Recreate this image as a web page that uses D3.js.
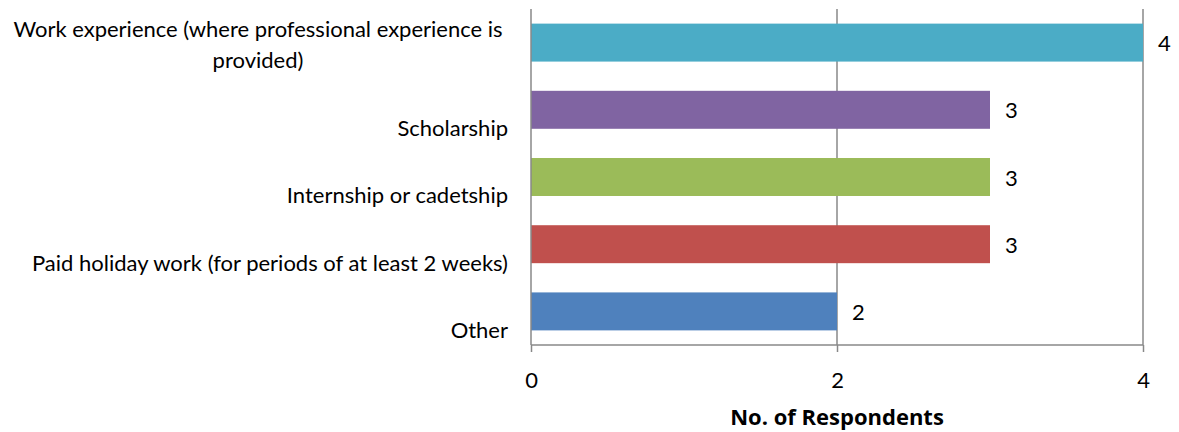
<!DOCTYPE html>
<html>
<head>
<meta charset="utf-8">
<script src="https://cdn.jsdelivr.net/npm/d3@7"></script>
<style>
  html, body { margin: 0; padding: 0; background: #fff; }
  svg text { font-family: Lato, "Open Sans", sans-serif; fill: #000; }
</style>
</head>
<body>
<svg id="chart" width="1179" height="432"></svg>
<script>
// Categories from top to bottom, each split into display lines
const categories = [
  "Work experience (where professional experience is provided)",
  "Scholarship",
  "Internship or cadetship",
  "Paid holiday work (for periods of at least 2 weeks)",
  "Other"
];
const categoryLines = [
  ["Work experience (where professional experience is", "provided)"],
  ["Scholarship"],
  ["Internship or cadetship"],
  ["Paid holiday work (for periods of at least 2 weeks)"],
  ["Other"]
];
const respondents = [4, 3, 3, 3, 2];
const barColors = ["#4BACC6", "#8064A2", "#9BBB59", "#C0504D", "#4F81BD"];
const xTicks = [0, 2, 4];
const xTitle = "No. of Respondents";

const svg = d3.select("#chart");
const plot = { left: 531, right: 1143, top: 9, bottom: 345 };
const axisColor = "#888888";
const fontSize = 22;

const x = d3.scaleLinear().domain([0, 4]).range([plot.left, plot.right]);
const y = d3.scaleBand().domain(categories).range([plot.top, plot.bottom])
  .paddingInner(0.435).paddingOuter(0.2175);

// Vertical gridlines
svg.append("g").selectAll("line").data(xTicks.filter(t => t > 0)).join("line")
  .attr("x1", d => x(d)).attr("x2", d => x(d))
  .attr("y1", plot.top).attr("y2", plot.bottom)
  .attr("stroke", axisColor).attr("stroke-width", 1.5);

// Bars
svg.append("g").selectAll("rect").data(categories).join("rect")
  .attr("x", x(0))
  .attr("y", d => y(d))
  .attr("width", (d, i) => x(respondents[i]) - x(0))
  .attr("height", y.bandwidth())
  .attr("fill", (d, i) => barColors[i]);

// Bottom axis
const xAxis = d3.axisBottom(x).tickValues(xTicks).tickSize(7).tickPadding(20)
  .tickFormat(d3.format("d"));
const gx = svg.append("g").attr("transform", `translate(0,${plot.bottom})`).call(xAxis);
gx.select(".domain").attr("stroke", axisColor).attr("stroke-width", 1.5)
  .attr("d", `M${plot.left},0H${plot.right}`);
gx.selectAll(".tick line").attr("stroke", axisColor).attr("stroke-width", 1.5);
gx.selectAll(".tick text").attr("font-size", fontSize).attr("fill", "#000")
  .style("font-family", "Lato, 'Open Sans', sans-serif");

// Left axis line
svg.append("line")
  .attr("x1", plot.left).attr("x2", plot.left)
  .attr("y1", plot.top).attr("y2", plot.bottom)
  .attr("stroke", axisColor).attr("stroke-width", 1.5);

// Category labels
const step = y.step();
const labelG = svg.append("g");
categories.forEach((c, i) => {
  const lines = categoryLines[i];
  const cy = y(c) + y.bandwidth() / 2;
  if (lines.length === 1) {
    labelG.append("text")
      .attr("x", 508).attr("y", cy + step * 0.25 + 4)
      .attr("text-anchor", "end").attr("dominant-baseline", "middle")
      .attr("font-size", fontSize).text(lines[0]);
  } else {
    const t = labelG.append("text")
      .attr("font-size", fontSize).attr("text-anchor", "middle")
      .attr("dominant-baseline", "middle");
    lines.forEach((ln, j) => {
      t.append("tspan").attr("x", 258).attr("y", cy - 12 + j * 31).text(ln);
    });
  }
});

// Value labels
svg.append("g").selectAll("text").data(categories).join("text")
  .attr("x", (d, i) => x(respondents[i]) + 15)
  .attr("y", d => y(d) + y.bandwidth() / 2 + 3)
  .attr("dominant-baseline", "middle")
  .attr("font-size", fontSize)
  .text((d, i) => respondents[i]);

// Axis title
svg.append("text")
  .attr("x", x(2)).attr("y", 419)
  .attr("text-anchor", "middle").attr("dominant-baseline", "middle")
  .attr("font-size", 22).attr("font-weight", "bold")
  .style("font-family", "'Open Sans', Lato, sans-serif")
  .text(xTitle);
</script>
</body>
</html>
